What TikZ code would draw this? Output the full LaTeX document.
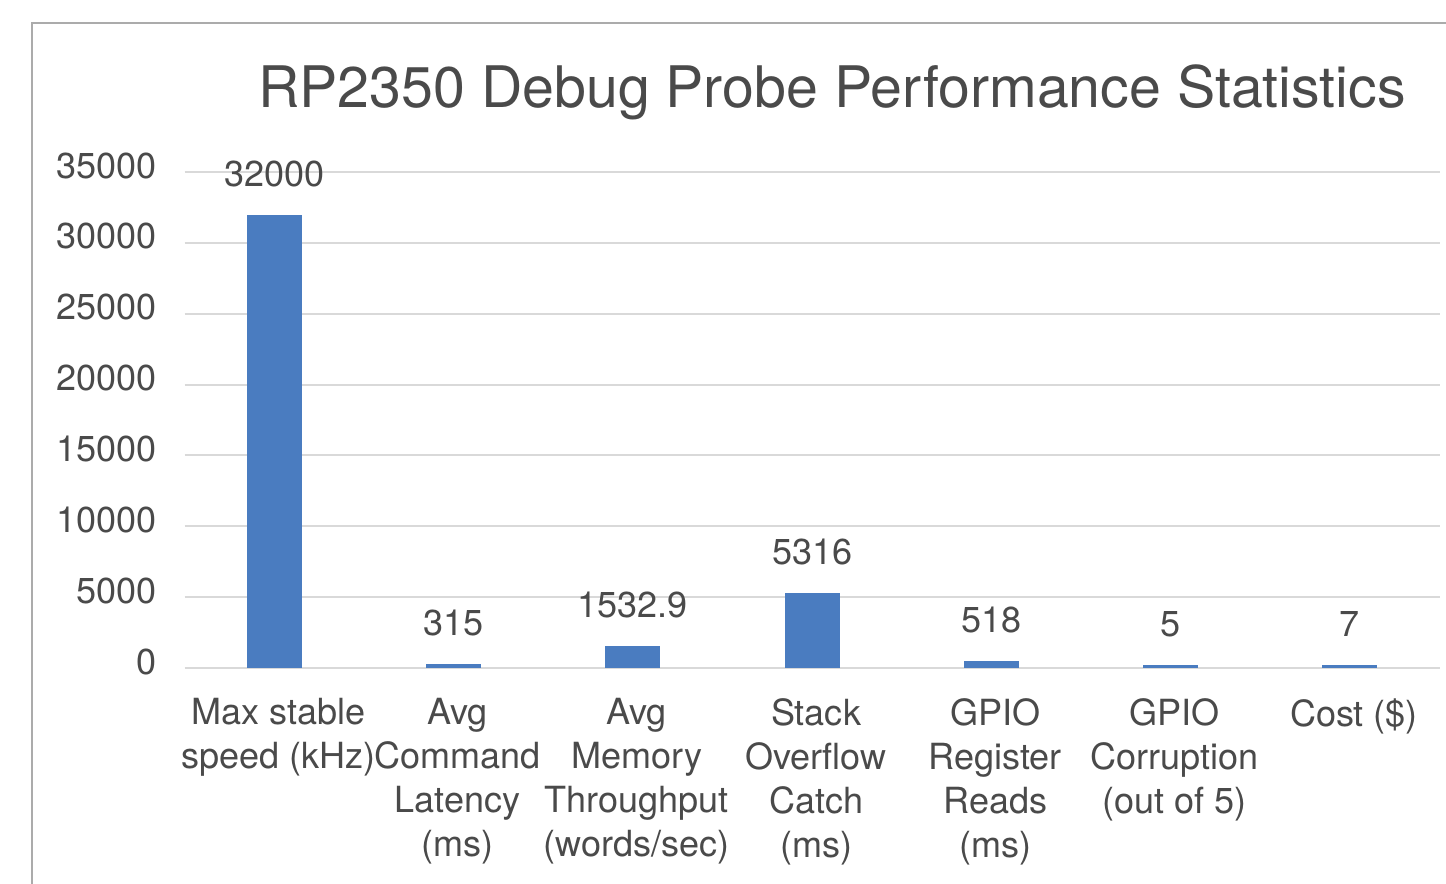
\documentclass[tikz,border=0pt]{standalone}
\usepackage{fontspec}
\setmainfont{TeX Gyre Heros}
\definecolor{barblue}{HTML}{4A7CC0}
\definecolor{gridgray}{HTML}{D9D9D9}
\definecolor{framegray}{HTML}{ABABAB}
\definecolor{txtgray}{HTML}{4A4A4A}
\def \plotleft {184.5}
\def \plotright {1439.5}
\def \zeroy {668}
\def \catsep {179.3}
\def \barwidth {55}
\def \unity {14.171}
\tikzstyle{bar}=[fill=barblue, draw=none, inner sep=0, outer sep=0, minimum width=\barwidth*0.02 cm]
\tikzstyle{gridline}=[gridgray, line width=1.1pt]
\tikzstyle{smalltext}=[inner sep=0, text=txtgray, font=\fontsize{20.5}{25}\selectfont]
\tikzstyle{ticklabel}=[smalltext, anchor=base east]
\tikzstyle{vallabel}=[smalltext, anchor=base]
\tikzstyle{catlabel}=[smalltext, anchor=north, align=center]

\begin{document}
\begin{tikzpicture}[x=0.02cm, y=-0.02cm]
\useasboundingbox (0,0) rectangle (1446,884);

\draw[framegray, line width=1.2pt] (32,884) -- (32,23) -- (1446,23);

\node[inner sep=0, anchor=base, text=txtgray, font=\fontsize{32.6}{38}\selectfont] (title) at (832,108) {RP2350 Debug Probe Performance Statistics};

\foreach \g in {0, ..., 7}
{
    \pgfmathsetmacro{\gy}{\zeroy - \g * 5 * \unity}
    \draw[gridline] (\plotleft, \gy) -- (\plotright, \gy);
    \node[ticklabel] (tick\g) at (157, \gy + 6) {\the\numexpr \g * 5000 \relax};
}

% \hk is the value in thousands, \v the printed value
\foreach \hk/\v/\cat [count=\k from 0] in {32/32000/{Max stable\\speed (kHz)}, 0.315/315/{Avg\\Command\\Latency\\(ms)}, 1.5329/1532.9/{Avg\\Memory\\Throughput\\(words/sec)}, 5.316/5316/{Stack\\Overflow\\Catch\\(ms)}, 0.518/518/{GPIO\\Register\\Reads\\(ms)}, 0.005/5/{GPIO\\Corruption\\(out of 5)}, 0.007/7/{Cost (\$)}}
{
    \pgfmathsetmacro{\cx}{\plotleft + (\k + 0.5) * \catsep}
    \pgfmathsetmacro{\h}{max(\hk * \unity, 3)}
    \node[bar, minimum height=\h*0.02 cm, anchor=south] (bar\k) at (\cx, \zeroy) {};
    \node[vallabel] (val\k) at ([yshift=0.57cm] bar\k.north) {\v};
    \node[catlabel] (cat\k) at (\cx + 4, 698) {\cat};
}

\end{tikzpicture}
\end{document}
